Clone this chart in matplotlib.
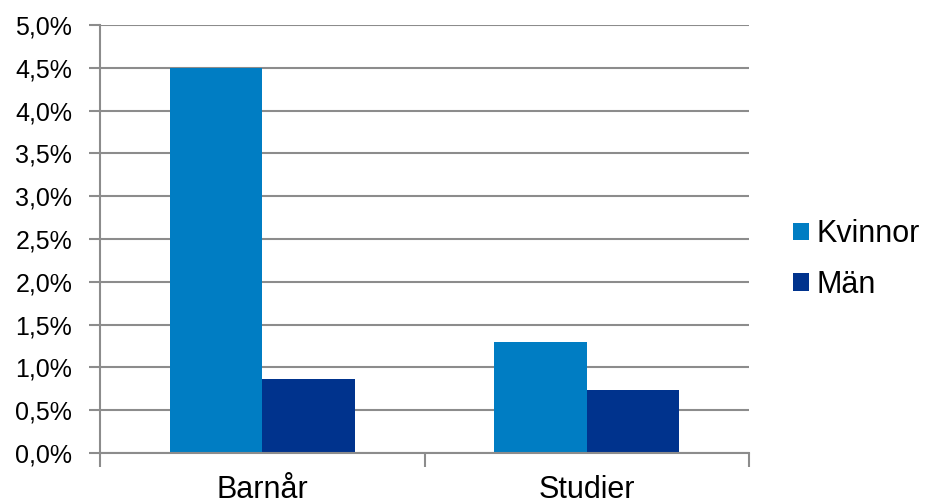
import numpy as np
import matplotlib.pyplot as plt
from matplotlib.ticker import FuncFormatter

plt.rcParams['font.family'] = ['Liberation Sans', 'DejaVu Sans']

# data (andel i procent)
categories = ["Barnår", "Studier"]
kvinnor = [4.5, 1.3]
man = [0.86, 0.74]
series_names = ["Kvinnor", "Män"]
colors = ["#007DC3", "#00338D"]

fig = plt.figure(figsize=(9.26, 5.01), dpi=100)
ax = fig.add_axes([0.108, 0.0958, 0.701, 0.8542])

x = np.arange(len(categories))
w = 0.285
ax.bar(x - w / 2, kvinnor, width=w, color=colors[0], label=series_names[0])
ax.bar(x + w / 2, man, width=w, color=colors[1], label=series_names[1])

ax.set_xlim(-0.5, len(categories) - 0.5)
ax.set_ylim(0, 5.0)
ax.set_yticks(np.arange(0, 5.01, 0.5))
ax.yaxis.set_major_formatter(FuncFormatter(lambda v, p: f"{v:.1f}%".replace(".", ",")))

grid_col = "#8C8C8C"
ax.grid(axis="y", color=grid_col, linewidth=1.5)
ax.set_axisbelow(True)
for s in ["top", "right"]:
    ax.spines[s].set_visible(False)
ax.spines["left"].set_color(grid_col)
ax.spines["left"].set_linewidth(1.5)
ax.spines["bottom"].set_color(grid_col)
ax.spines["bottom"].set_linewidth(1.5)

# category ticks between groups, labels centred
ax.set_xticks(np.arange(-0.5, len(categories), 1.0))
ax.set_xticklabels([])
ax.set_xticks(x, minor=True)
ax.set_xticklabels(categories, minor=True, fontsize=22)
ax.tick_params(axis="x", which="major", length=10, width=1.5, color=grid_col, direction="out")
ax.tick_params(axis="x", which="minor", length=0, pad=16)
ax.tick_params(axis="y", length=8, width=1.5, color=grid_col, labelsize=18, pad=12)

# legend, placed in figure coordinates
ax.legend(loc="center left", bbox_to_anchor=(793 / 926, (501 - 259.5) / 501),
          bbox_transform=fig.transFigure, frameon=False, fontsize=22,
          borderpad=0, borderaxespad=0,
          handlelength=0.52, handleheight=0.52, handletextpad=0.25, labelspacing=0.67)

fig.savefig("out.png", dpi=100)
